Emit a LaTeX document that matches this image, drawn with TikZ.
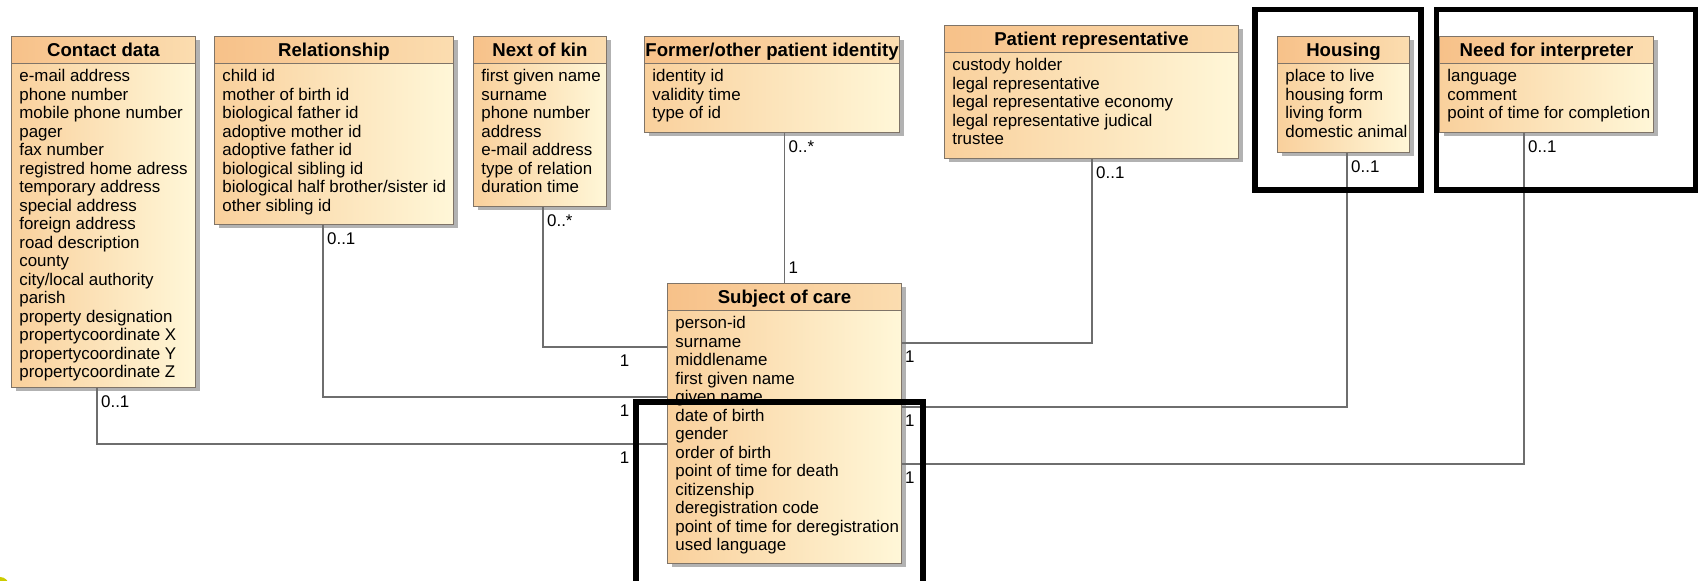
\documentclass[tikz,border=0pt]{standalone}
\usepackage{fontspec}
\setmainfont{Liberation Sans}
\usepackage{tikz}
\usetikzlibrary{positioning,shadows}
\definecolor{boxline}{HTML}{7F7468}
\definecolor{headorange}{HTML}{F7C189}
\definecolor{headlight}{HTML}{FBDDB0}
\definecolor{bodyorange}{HTML}{F9D09C}
\definecolor{bodylight}{HTML}{FFF7D8}
\definecolor{wire}{HTML}{6E6E6E}
\definecolor{blob}{HTML}{CCCC00}
\tikzset{
classbox/.style = {anchor=north west, draw=boxline, line width=0.5pt, left color=bodyorange, right color=bodylight, inner sep=0pt, general shadow={fill=black!30, shadow xshift=2pt, shadow yshift=-2pt}},
classtitle/.style = {anchor=north west, draw=boxline, line width=0.5pt, left color=headorange, right color=headlight, minimum height=13.5pt, inner sep=0pt, font=\bfseries\fontsize{9.3}{11}\selectfont, text height=6.7pt, text depth=0pt},
attrs/.style = {anchor=north west, align=left, inner sep=0pt},
assoc/.style = {draw=wire, line width=0.7pt},
mult/.style = {inner sep=0pt},
focus/.style = {draw=black, line width=2.75pt}
}

\begin{document}
\begin{tikzpicture}[x=0.5pt, y=-0.5pt, font=\fontsize{8.45}{9.25}\selectfont]
\useasboundingbox (0,0) rectangle (1698,581);
\node[classbox, minimum width=92pt, minimum height=175.5pt] (contact) at (11,36) {};
\node[classtitle, minimum width=92pt] (contact-t) at (contact.north west) {Contact data};
\node[attrs, below right=2.5pt and 4pt of contact-t.south west] (contact-a) {e-mail address\\phone number\\mobile phone number\\pager\\fax number\\registred home adress\\temporary address\\special address\\foreign address\\road description\\county\\city/local authority\\parish\\property designation\\propertycoordinate X\\propertycoordinate Y\\propertycoordinate Z};
\node[classbox, minimum width=119.5pt, minimum height=94pt] (rel) at (214,36) {};
\node[classtitle, minimum width=119.5pt] (rel-t) at (rel.north west) {Relationship};
\node[attrs, below right=2.5pt and 4pt of rel-t.south west] (rel-a) {child id\\mother of birth id\\biological father id\\adoptive mother id\\adoptive father id\\biological sibling id\\biological half brother/sister id\\other sibling id};
\node[classbox, minimum width=66.5pt, minimum height=85pt] (kin) at (473,36) {};
\node[classtitle, minimum width=66.5pt] (kin-t) at (kin.north west) {Next of kin};
\node[attrs, below right=2.5pt and 4pt of kin-t.south west] (kin-a) {first given name\\surname\\phone number\\address\\e-mail address\\type of relation\\duration time};
\node[classbox, minimum width=127.5pt, minimum height=48pt] (former) at (644,36) {};
\node[classtitle, minimum width=127.5pt] (former-t) at (former.north west) {Former/other patient identity};
\node[attrs, below right=2.5pt and 4pt of former-t.south west] (former-a) {identity id\\validity time\\type of id};
\node[classbox, minimum width=147pt, minimum height=66.5pt] (rep) at (944,25) {};
\node[classtitle, minimum width=147pt] (rep-t) at (rep.north west) {Patient representative};
\node[attrs, below right=2.5pt and 4pt of rep-t.south west] (rep-a) {custody holder\\legal representative\\legal representative economy\\legal representative judical\\trustee};
\node[classbox, minimum width=66pt, minimum height=58pt] (housing) at (1277,36) {};
\node[classtitle, minimum width=66pt] (housing-t) at (housing.north west) {Housing};
\node[attrs, below right=2.5pt and 4pt of housing-t.south west] (housing-a) {place to live\\housing form\\living form\\domestic animal};
\node[classbox, minimum width=107pt, minimum height=48pt] (interp) at (1439,36) {};
\node[classtitle, minimum width=107pt] (interp-t) at (interp.north west) {Need for interpreter};
\node[attrs, below right=2.5pt and 4pt of interp-t.south west] (interp-a) {language\\comment\\point of time for completion};
\node[classbox, minimum width=117pt, minimum height=140pt] (subject) at (667,283) {};
\node[classtitle, minimum width=117pt] (subject-t) at (subject.north west) {Subject of care};
\node[attrs, below right=2.5pt and 4pt of subject-t.south west] (subject-a) {person-id\\surname\\middlename\\first given name\\given name\\date of birth\\gender\\order of birth\\point of time for death\\citizenship\\deregistration code\\point of time for deregistration\\used language};
\draw[assoc] (contact.south -| 97,0) |- (subject.west |- 0,444) node[mult, at start, anchor=north west, xshift=1.75pt, yshift=-3.5pt] (contact-m) {0..1} node[mult, at end, anchor=north east, xshift=-18.5pt, yshift=-3.5pt] (contact-n) {1};
\draw[assoc] (rel.south -| 323,0) |- (subject.west |- 0,397) node[mult, at start, anchor=north west, xshift=1.75pt, yshift=-3.5pt] (rel-m) {0..1} node[mult, at end, anchor=north east, xshift=-18.5pt, yshift=-3.5pt] (rel-n) {1};
\draw[assoc] (kin.south -| 543,0) |- (subject.west |- 0,347) node[mult, at start, anchor=north west, xshift=1.75pt, yshift=-3.5pt] (kin-m) {0..*} node[mult, at end, anchor=north east, xshift=-18.5pt, yshift=-3.5pt] (kin-n) {1};
\draw[assoc] (former.south -| subject.north) -- (subject.north) node[mult, at start, anchor=north west, xshift=1.75pt, yshift=-3.5pt] (former-m) {0..*} node[mult, at end, anchor=south west, xshift=1.75pt, yshift=4.5pt] (former-n) {1};
\draw[assoc] (rep.south -| 1092,0) |- (subject.east |- 0,343) node[mult, at start, anchor=north west, xshift=1.75pt, yshift=-3.5pt] (rep-m) {0..1} node[mult, at end, anchor=north west, xshift=1.25pt, yshift=-3.5pt] (rep-n) {1};
\draw[assoc] (housing.south -| 1347,0) |- (subject.east |- 0,407) node[mult, at start, anchor=north west, xshift=1.75pt, yshift=-3.5pt] (housing-m) {0..1} node[mult, at end, anchor=north west, xshift=1.25pt, yshift=-3.5pt] (housing-n) {1};
\draw[assoc] (interp.south -| 1524,0) |- (subject.east |- 0,464) node[mult, at start, anchor=north west, xshift=1.75pt, yshift=-3.5pt] (interp-m) {0..1} node[mult, at end, anchor=north west, xshift=1.25pt, yshift=-3.5pt] (interp-n) {1};
\draw[focus] (1255,9.5) rectangle (1421,190);
\draw[focus] (1436.5,9.5) rectangle (1695.5,190);
\draw[focus] (636,590) -- (636,402) -- (923,402) -- (923,590);
\fill[blob] (0,586) circle[radius=9];
\end{tikzpicture}
\end{document}
